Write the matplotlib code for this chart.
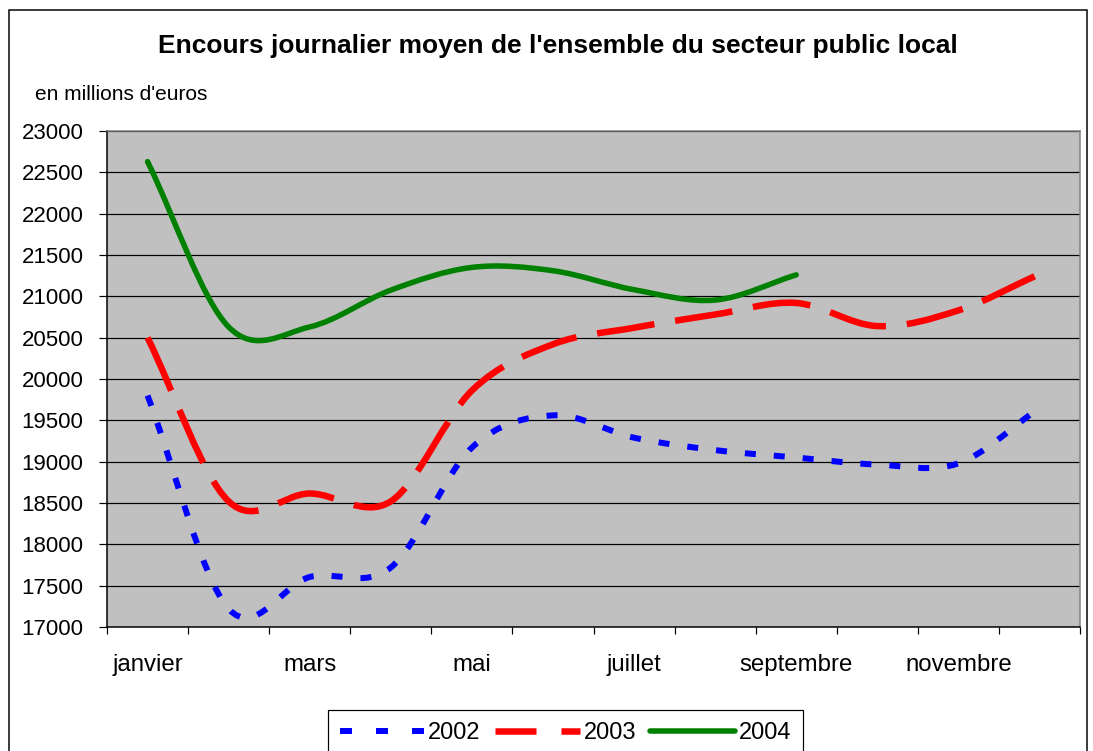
import numpy as np
import matplotlib
matplotlib.use("Agg")
import matplotlib.pyplot as plt
from matplotlib.path import Path
from matplotlib.patches import PathPatch, Rectangle
from matplotlib.lines import Line2D
from matplotlib import ticker

plt.rcParams['font.family'] = ['Liberation Sans', 'DejaVu Sans']
plt.rcParams['lines.scale_dashes'] = False

# monthly values, millions d'euros
months = ['janvier', 'février', 'mars', 'avril', 'mai', 'juin', 'juillet',
          'août', 'septembre', 'octobre', 'novembre', 'décembre']
v2002 = [19800, 17220, 17605, 17720, 19170, 19560, 19290, 19140, 19050, 18965, 18980, 19650]
v2003 = [20500, 18520, 18615, 18520, 19860, 20420, 20620, 20780, 20920, 20640, 20830, 21270]
v2004 = [22630, 20630, 20630, 21075, 21350, 21310, 21080, 20955, 21260]
years = ['2002', '2003', '2004']
y_ticks = list(range(17000, 23001, 500))

W, H = 1093, 751


def smooth_path(xs, ys):
    # excel style smoothed line: catmull-rom as cubic bezier
    pts = np.column_stack([xs, ys]).astype(float)
    ext = np.vstack([2 * pts[0] - pts[1], pts, 2 * pts[-1] - pts[-2]])
    verts = [pts[0]]
    codes = [Path.MOVETO]
    for i in range(len(pts) - 1):
        p0, p1, p2, p3 = ext[i], ext[i + 1], ext[i + 2], ext[i + 3]
        verts += [p1 + (p2 - p0) / 6.0, p2 - (p3 - p1) / 6.0, p2]
        codes += [Path.CURVE4] * 3
    return Path(verts, codes)


def px(v):
    return v * 0.72


fig = plt.figure(figsize=(W / 100, H / 100), dpi=100)
ax = fig.add_axes([107 / W, 1 - 627 / H, 973 / W, 496 / H])
ax.set_facecolor('#C0C0C0')

styles = [
    dict(color='#0000FF', lw=px(6), ls=(0, (px(11), px(18))), cap='butt'),
    dict(color='#FF0000', lw=px(6.5), ls=(0, (px(58), px(21))), cap='butt'),
    dict(color='#008000', lw=px(5.5), ls='solid', cap='round'),
]
legend_ls = [(0, (px(12), px(24))), (0, (px(41), px(25))), 'solid']

for vals, st in zip([v2002, v2003, v2004], styles):
    xs = np.arange(len(vals))
    patch = PathPatch(smooth_path(xs, vals), fill=False, edgecolor=st['color'],
                      linewidth=st['lw'], linestyle=st['ls'], capstyle=st['cap'],
                      joinstyle='round', zorder=3)
    ax.add_patch(patch)

ax.set_xlim(-0.5, len(months) - 0.5)
ax.set_ylim(17000, 23000)
ax.set_yticks(y_ticks)
ax.set_yticklabels([str(t) for t in y_ticks])
ax.yaxis.grid(True, color='black', linewidth=px(1.2))
ax.set_axisbelow(True)

# category boundaries as ticks, every other month labelled
ax.xaxis.set_major_locator(ticker.FixedLocator(np.arange(-0.5, len(months), 1.0)))
ax.xaxis.set_major_formatter(ticker.NullFormatter())
ax.xaxis.set_minor_locator(ticker.FixedLocator(range(0, len(months), 2)))
ax.xaxis.set_minor_formatter(ticker.FixedFormatter(months[::2]))
ax.tick_params(axis='x', which='major', length=px(7), width=px(1.2), direction='out')
ax.tick_params(axis='x', which='minor', length=0, pad=px(27), labelsize=17.3)
ax.tick_params(axis='y', length=px(8.5), width=px(1.2), direction='out',
               pad=px(15), labelsize=16)

for side in ['left', 'bottom']:
    ax.spines[side].set_color('black')
    ax.spines[side].set_linewidth(px(1.5))
for side in ['top', 'right']:
    ax.spines[side].set_color('#808080')
    ax.spines[side].set_linewidth(px(1.5))

fig.text(558 / W, 1 - 46 / H, "Encours journalier moyen de l'ensemble du secteur public local",
         ha='center', va='center', fontsize=19, fontweight='bold')
fig.text(35 / W, 1 - 95 / H, "en millions d'euros", ha='left', va='center', fontsize=15)

# outer chart frame
fig.patches.append(Rectangle((9 / W, -0.1), 1078 / W, 1.1 - 10 / H, transform=fig.transFigure,
                             fill=False, edgecolor='black', linewidth=px(1.5)))

handles = []
for st, lls in zip(styles, legend_ls):
    handles.append(Line2D([], [], color=st['color'], lw=st['lw'], ls=lls,
                          solid_capstyle='round', dash_capstyle='butt'))
leg = fig.legend(handles, years, loc='upper left', bbox_to_anchor=(328 / W, 1 - 710 / H),
                 ncol=3, fontsize=17, frameon=True, fancybox=False, framealpha=1,
                 edgecolor='black', borderaxespad=0, borderpad=0.5, handlelength=3.6,
                 handletextpad=0.15, columnspacing=0.6)
leg.get_frame().set_linewidth(px(1.2))

fig.savefig('out.png', dpi=100)
